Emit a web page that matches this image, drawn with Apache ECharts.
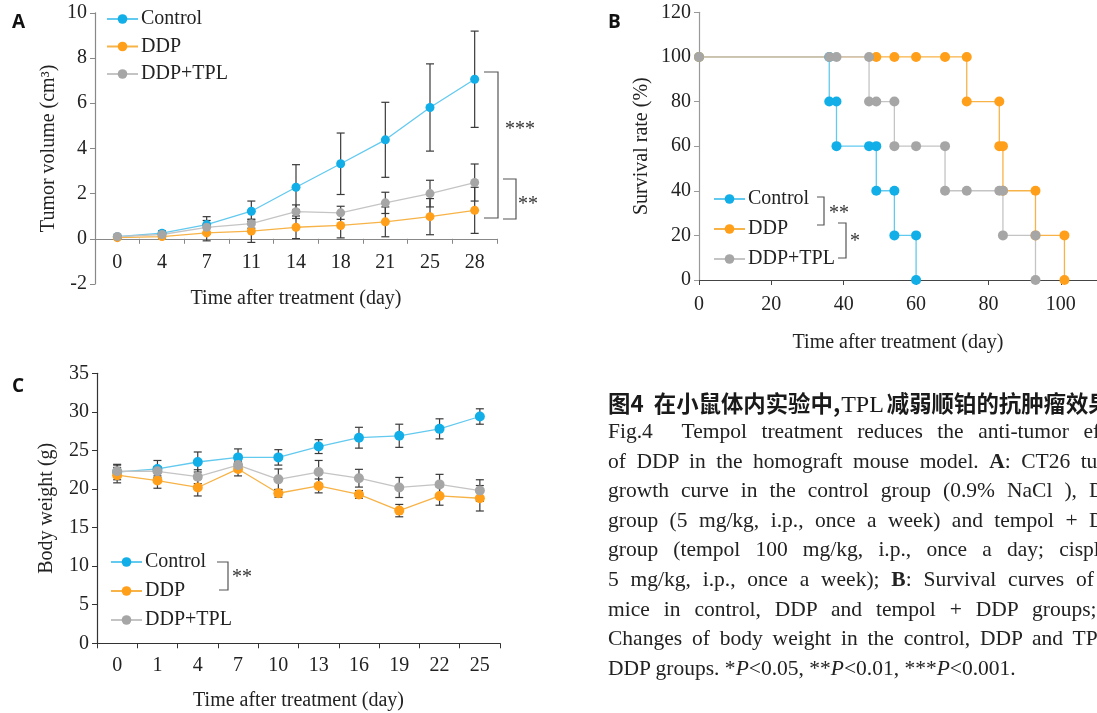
<!DOCTYPE html>
<html><head><meta charset="utf-8">
<script src="https://cdn.jsdelivr.net/npm/echarts@6/dist/echarts.min.js"></script>
<style>
html,body{margin:0;padding:0;width:1097px;height:713px;overflow:hidden;background:#fff}
#chart{position:absolute;left:0;top:0;width:1097px;height:713px}
#cap{position:absolute;left:608px;top:387px;width:524px;color:#222;font-family:"Liberation Serif",serif;}
#cap .t{font-family:"Noto Sans CJK SC",sans-serif;font-weight:700;font-size:22.4px;line-height:30px;height:30px;white-space:nowrap;color:#1a1a1a}
#cap .t .s{font-family:"Liberation Serif",serif;font-weight:400;font-size:24px;padding:0 3px 0 1px}
#cap .l{font-size:21.5px;line-height:29.6px;height:29.6px;white-space:nowrap;text-align:justify;text-align-last:justify}
#cap .last{text-align:left;text-align-last:left}
</style></head><body>
<div id="chart"></div>
<div id="cap">
<div class="t">图4&nbsp;&nbsp;在小鼠体内实验中,<span class="s">TPL</span>减弱顺铂的抗肿瘤效果</div>
<div class="l">Fig.4&nbsp; Tempol treatment reduces the anti-tumor effect</div>
<div class="l">of DDP in the homograft mouse model. <b>A</b>: CT26 tumor</div>
<div class="l">growth curve in the control group (0.9% NaCl ), DDP</div>
<div class="l">group (5 mg/kg, i.p., once a week) and tempol + DDP</div>
<div class="l">group (tempol 100 mg/kg, i.p., once a day; cisplatin</div>
<div class="l">5 mg/kg, i.p., once a week); <b>B</b>: Survival curves of the</div>
<div class="l">mice in control, DDP and tempol + DDP groups; <b>C</b>:</div>
<div class="l">Changes of body weight in the control, DDP and TPL +</div>
<div class="l last">DDP groups. *<i>P</i>&lt;0.05, **<i>P</i>&lt;0.01, ***<i>P</i>&lt;0.001.</div>
</div>
<script>
// ---------- Panel A: tumor volume ----------
const daysA = ['0','4','7','11','14','18','21','25','28'];
const ctrlA   = [0.09,0.25,0.63,1.22,2.28,3.32,4.38,5.81,7.06];
const ctrlASd = [0.05,0.10,0.35,0.45,1.00,1.36,1.66,1.93,2.13];
const ddpA    = [0.05,0.10,0.26,0.34,0.51,0.59,0.75,0.98,1.26];
const ddpASd  = [0.03,0.08,0.35,0.50,0.50,0.55,0.66,0.80,1.02];
const tplA    = [0.10,0.19,0.51,0.67,1.20,1.15,1.59,2.00,2.49];
const tplASd  = [0.05,0.10,0.30,0.20,0.30,0.29,0.47,0.59,0.82];
const yTicksA = {min:-2, max:10, interval:2};
// ---------- Panel B: survival ----------
const survCtrl = [[0,100],[36,100],[36,80],[38,80],[38,60],[47,60],[49,60],[49,40],[54,40],[54,20],[60,20],[60,0]];
const survDdp  = [[0,100],[49,100],[54,100],[60,100],[68,100],[74,100],[74,80],[83,80],[83,60],[84,60],[84,40],[93,40],[93,20],[101,20],[101,0]];
const survTpl  = [[0,100],[36,100],[38,100],[47,100],[47,80],[49,80],[54,80],[54,60],[60,60],[68,60],[68,40],[74,40],[83,40],[84,40],[84,20],[93,20],[93,0]];
// ---------- Panel C: body weight ----------
const daysC = ['0','1','4','7','10','13','16','19','22','25'];
const ctrlC   = [22.2,22.6,23.5,24.1,24.1,25.5,26.65,26.9,27.8,29.4];
const ctrlCSd = [1.0,1.1,1.3,1.1,1.0,0.9,1.35,1.5,1.3,1.0];
const ddpC    = [21.8,21.1,20.2,22.6,19.45,20.4,19.3,17.2,19.1,18.8];
const ddpCSd  = [1.0,1.0,1.1,0.9,0.5,0.9,0.5,0.8,1.2,1.65];
const tplC    = [22.3,22.3,21.6,23.1,21.25,22.2,21.4,20.2,20.6,19.8];
const tplCSd  = [0.8,0.6,0.9,0.5,1.35,1.5,1.15,1.3,1.3,1.4];

const names = ['Control','DDP','DDP+TPL'];
const mk = {Control:'#12aee8', DDP:'#ff9f1a', 'DDP+TPL':'#a6a6a6'};
const ln = {Control:'#62c9ef', DDP:'#f7b347', 'DDP+TPL':'#c4c4c4'};
const serif = '"Liberation Serif","Times New Roman",serif';
const txt = {fontFamily:serif, fontSize:20, color:'#222'};

const gridAH = 271.2;
// put panel A's x axis at y = 0 (moves line, ticks, labels and name together)
const offA = -gridAH * (0 - yTicksA.min) / (yTicksA.max - yTicksA.min);

function errSeries(xi, means, sds){
  return {type:'custom', xAxisIndex:xi, yAxisIndex:xi, z:1, silent:true,
    data: means.map((m,i)=>[i, m-sds[i], m+sds[i]]),
    encode:{x:0, y:[1,2]},
    renderItem:(params, api)=>{
      const lo = api.coord([api.value(0), api.value(1)]);
      const hi = api.coord([api.value(0), api.value(2)]);
      const w = 4, st = {stroke:'#3a3a3a', lineWidth:1.2};
      return {type:'group', children:[
        {type:'line', shape:{x1:lo[0],y1:lo[1],x2:hi[0],y2:hi[1]}, style:st},
        {type:'line', shape:{x1:lo[0]-w,y1:lo[1],x2:lo[0]+w,y2:lo[1]}, style:st},
        {type:'line', shape:{x1:hi[0]-w,y1:hi[1],x2:hi[0]+w,y2:hi[1]}, style:st}
      ]};
    }};
}
function lineSeries(name, xi, data, size){
  return {type:'line', name, xAxisIndex:xi, yAxisIndex:xi, data, z:3,
    symbol:'circle', symbolSize:size, showSymbol:true,
    lineStyle:{color:ln[name], width:1.3}, itemStyle:{color:mk[name]}, emphasis:{disabled:true}};
}
function legendAt(left, top, gap){
  return {orient:'vertical', left, top, padding:0, itemWidth:31, itemHeight:12, itemGap:gap,
    data:names, selectedMode:false, textStyle:{...txt, lineHeight:20, padding:[0,0,0,-2]}};
}
function bracket(pts){
  return {type:'polyline', shape:{points:pts}, style:{stroke:'#555', lineWidth:1.2, fill:null}, silent:true};
}
function label(x, y, s){
  return {type:'text', x, y, style:{text:s, font:'20px '+serif, fill:'#333', textVerticalAlign:'middle'}, silent:true};
}

const chart = echarts.init(document.getElementById('chart'), null, {renderer:'canvas'});
chart.setOption({
  animation:false,
  backgroundColor:'#fff',
  grid:[
    {left:95, top:12.8, width:402, height:gridAH},
    {left:699, top:12.3, width:400.4, height:267.7},
    {left:97, top:373.3, width:403, height:270}
  ],
  xAxis:[
    {gridIndex:0, type:'category', data:daysA, boundaryGap:true, offset:offA,
      axisLine:{onZero:false, lineStyle:{color:'#888', width:1.2}},
      axisTick:{show:true, length:5, lineStyle:{color:'#888'}},
      axisLabel:{...txt, margin:14},
      name:'Time after treatment (day)', nameLocation:'middle', nameGap:50, nameTextStyle:txt},
    {gridIndex:1, type:'value', min:0, max:110, interval:20,
      axisLine:{onZero:false, lineStyle:{color:'#444', width:1.2}},
      axisTick:{show:true, length:5, lineStyle:{color:'#444'}},
      axisLabel:{...txt, margin:15, showMaxLabel:false},
      splitLine:{show:false},
      name:'Time after treatment (day)', nameLocation:'middle', nameGap:53, nameTextStyle:txt},
    {gridIndex:2, type:'category', data:daysC, boundaryGap:true,
      axisLine:{lineStyle:{color:'#333', width:1.2}},
      axisTick:{show:true, length:5, lineStyle:{color:'#333'}},
      axisLabel:{...txt, margin:12},
      name:'Time after treatment (day)', nameLocation:'middle', nameGap:47, nameTextStyle:txt}
  ],
  yAxis:[
    {gridIndex:0, type:'value', min:yTicksA.min, max:yTicksA.max, interval:yTicksA.interval,
      axisLine:{show:true, lineStyle:{color:'#888', width:1.2}},
      axisTick:{show:true, length:5, lineStyle:{color:'#888'}},
      axisLabel:{...txt, margin:8}, splitLine:{show:false},
      name:'Tumor volume (cm³)', nameLocation:'middle', nameGap:36, nameTextStyle:txt},
    {gridIndex:1, type:'value', min:0, max:120, interval:20,
      axisLine:{show:true, lineStyle:{color:'#999', width:1.2}},
      axisTick:{show:true, length:5, lineStyle:{color:'#999'}},
      axisLabel:{...txt, margin:8}, splitLine:{show:false},
      name:'Survival rate (%)', nameLocation:'middle', nameGap:47, nameTextStyle:txt},
    {gridIndex:2, type:'value', min:0, max:35, interval:5,
      axisLine:{show:true, lineStyle:{color:'#333', width:1.2}},
      axisTick:{show:true, length:5, lineStyle:{color:'#333'}},
      axisLabel:{...txt, margin:8}, splitLine:{show:false},
      name:'Body weight (g)', nameLocation:'middle', nameGap:40, nameTextStyle:txt}
  ],
  legend:[legendAt(106, 9, 7.5), legendAt(713, 189, 10), legendAt(110, 552, 9)],
  series:[
    errSeries(0, ctrlA, ctrlASd), errSeries(0, ddpA, ddpASd), errSeries(0, tplA, tplASd),
    lineSeries('Control',0,ctrlA,9), lineSeries('DDP',0,ddpA,9), lineSeries('DDP+TPL',0,tplA,9),
    lineSeries('Control',1,survCtrl,10), lineSeries('DDP',1,survDdp,10), lineSeries('DDP+TPL',1,survTpl,10),
    errSeries(2, ctrlC, ctrlCSd), errSeries(2, ddpC, ddpCSd), errSeries(2, tplC, tplCSd),
    lineSeries('Control',2,ctrlC,10), lineSeries('DDP',2,ddpC,10), lineSeries('DDP+TPL',2,tplC,10)
  ],
  graphic:[
    {type:'text', left:12, top:13, style:{text:'A', font:'bold 19px "Open Sans",sans-serif', fill:'#111'}},
    {type:'text', left:608, top:13, style:{text:'B', font:'bold 19px "Open Sans",sans-serif', fill:'#111'}},
    {type:'text', left:12, top:377, style:{text:'C', font:'bold 19px "Open Sans",sans-serif', fill:'#111'}},
    bracket([[484,72],[498,72],[498,218],[484,218]]),
    label(505,130,'***'),
    bracket([[503,179],[516,179],[516,219],[503,219]]),
    label(518,205,'**'),
    bracket([[817,197],[824,197],[824,225],[817,225]]),
    label(829,214,'**'),
    bracket([[838,223],[846,223],[846,258],[838,258]]),
    label(850,242,'*'),
    bracket([[217,562],[228,562],[228,590],[219,590]]),
    label(232,578,'**')
  ]
});
</script>
</body></html>
